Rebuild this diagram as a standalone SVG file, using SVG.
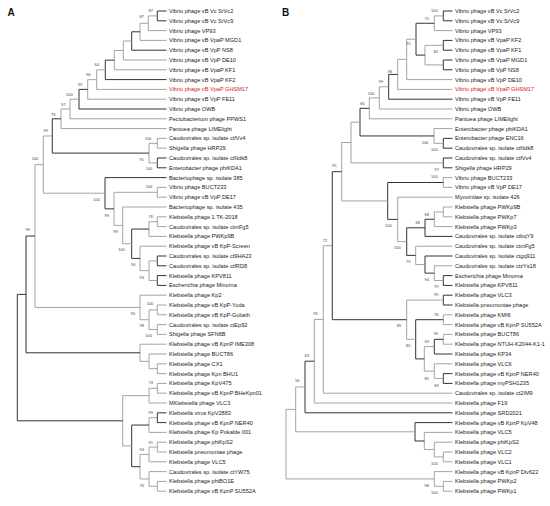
<svg xmlns="http://www.w3.org/2000/svg" width="550" height="506" viewBox="0 0 550 506">
<style>
.g{fill:none;stroke:#9a9a9a;stroke-width:0.9}
.k{fill:none;stroke:#333;stroke-width:1}
.t{font-family:"Liberation Sans",Arial,sans-serif;font-size:5.6px;fill:#222}
.r{fill:#e02020}
.bs{font-family:"Liberation Sans",Arial,sans-serif;font-size:4px;fill:#444;text-anchor:middle}
.p{font-family:"Liberation Sans",Arial,sans-serif;font-size:10px;font-weight:bold;fill:#111}
</style>
<rect width="550" height="506" fill="#fff"/>
<text class="p" x="7.5" y="15.5">A</text>
<text class="p" x="282" y="15.5">B</text>
<g id="connectors-A">
<path class="k" d="M166.5 11 H157.3 V20.8 H166.5"/>
<path class="g" d="M157.3 15.9 H148.3 V30.6 H166.5"/>
<path class="g" d="M148.3 23.25 H140 V40.4 H166.5"/>
<path class="k" d="M140 31.8 H131.7 V50.2 H166.5"/>
<path class="g" d="M131.7 41 H123.3 V60 H166.5"/>
<path class="g" d="M123.3 50.5 H114.3 V69.8 H166.5"/>
<path class="k" d="M114.3 60.15 H105.3 V79.6 H166.5"/>
<path class="g" d="M105.3 69.9 H96.7 V89.4 H166.5"/>
<path class="g" d="M96.7 79.65 H87.7 V99.2 H166.5"/>
<path class="k" d="M87.7 89.4 H79 V109 H166.5"/>
<path class="g" d="M79 99.2 H70 V118.8 H166.5"/>
<path class="g" d="M70 109 H61 V128.6 H166.5"/>
<path class="g" d="M166.5 138.4 H157.3 V148.2 H166.5"/>
<path class="k" d="M166.5 158 H157.3 V167.8 H166.5"/>
<path class="g" d="M157.3 143.3 H149 V162.9 H157.3"/>
<path class="k" d="M61 118.8 H52.3 V153.1 H149"/>
<path class="g" d="M166.5 187.4 H157.3 V197.2 H166.5"/>
<path class="g" d="M166.5 216.8 H157.3 V226.6 H166.5"/>
<path class="g" d="M157.3 221.7 H149 V236.4 H166.5"/>
<path class="k" d="M166.5 256 H157.3 V265.8 H166.5"/>
<path class="k" d="M166.5 275.6 H157.3 V285.4 H166.5"/>
<path class="g" d="M157.3 260.9 H149 V280.5 H157.3"/>
<path class="g" d="M166.5 246.2 H140 V270.7 H149"/>
<path class="k" d="M149 229.05 H131.7 V258.45 H140"/>
<path class="g" d="M166.5 207 H122.7 V243.75 H131.7"/>
<path class="g" d="M157.3 192.3 H114 V225.4 H122.7"/>
<path class="k" d="M166.5 177.6 H105 V208.85 H114"/>
<path class="g" d="M52.3 135.95 H43.3 V193.2 H105"/>
<path class="g" d="M166.5 305 H157.3 V314.8 H166.5"/>
<path class="g" d="M166.5 324.6 H157.3 V334.4 H166.5"/>
<path class="g" d="M157.3 309.9 H149 V329.5 H157.3"/>
<path class="g" d="M166.5 295.2 H140 V319.7 H149"/>
<path class="g" d="M43.3 164.6 H35 V307.45 H140"/>
<path class="g" d="M166.5 363.8 H157.3 V373.6 H166.5"/>
<path class="g" d="M166.5 354 H149 V368.7 H157.3"/>
<path class="g" d="M166.5 344.2 H140 V361.35 H149"/>
<path class="k" d="M35 236 H26 V352.8 H140"/>
<path class="g" d="M166.5 383.4 H157.3 V393.2 H166.5"/>
<path class="g" d="M157.3 388.3 H149 V403 H166.5"/>
<path class="k" d="M166.5 412.8 H157.3 V422.6 H166.5"/>
<path class="g" d="M157.3 417.7 H149 V432.4 H166.5"/>
<path class="g" d="M166.5 442.2 H157.3 V452 H166.5"/>
<path class="g" d="M157.3 447.1 H149 V461.8 H166.5"/>
<path class="g" d="M166.5 481.4 H157.3 V491.2 H166.5"/>
<path class="g" d="M166.5 471.6 H149 V486.3 H157.3"/>
<path class="g" d="M149 454.45 H140 V478.95 H149"/>
<path class="k" d="M149 425.05 H131.7 V466.7 H140"/>
<path class="g" d="M149 395.65 H122.7 V445.9 H131.7"/>
<path class="k" d="M26 294.4 H17.3 V420.8 H122.7"/>
</g>
<g id="connectors-B">
<path class="k" d="M452.5 11 H443.3 V20.8 H452.5"/>
<path class="g" d="M443.3 15.9 H434.3 V30.6 H452.5"/>
<path class="k" d="M452.5 40.4 H443.3 V50.2 H452.5"/>
<path class="k" d="M452.5 60 H443.3 V69.8 H452.5"/>
<path class="g" d="M443.3 45.3 H425 V64.9 H443.3"/>
<path class="k" d="M434.3 23.25 H416 V55.1 H425"/>
<path class="g" d="M416 39.2 H406.7 V79.6 H452.5"/>
<path class="g" d="M406.7 59.4 H397.7 V89.4 H452.5"/>
<path class="k" d="M397.7 74.4 H388.7 V99.2 H452.5"/>
<path class="g" d="M388.7 86.8 H379.3 V109 H452.5"/>
<path class="g" d="M379.3 97.9 H369.3 V118.8 H452.5"/>
<path class="k" d="M452.5 138.4 H443.3 V148.2 H452.5"/>
<path class="g" d="M452.5 128.6 H434 V143.3 H443.3"/>
<path class="k" d="M369.3 108.35 H360 V135.95 H434"/>
<path class="k" d="M452.5 158 H443.3 V167.8 H452.5"/>
<path class="g" d="M360 122.15 H351 V162.9 H443.3"/>
<path class="g" d="M452.5 177.6 H443.3 V187.4 H452.5"/>
<path class="g" d="M452.5 207 H443.3 V216.8 H452.5"/>
<path class="g" d="M443.3 211.9 H434.3 V226.6 H452.5"/>
<path class="k" d="M434.3 219.25 H425 V236.4 H452.5"/>
<path class="k" d="M452.5 275.6 H443.3 V285.4 H452.5"/>
<path class="g" d="M452.5 265.8 H434.3 V280.5 H443.3"/>
<path class="k" d="M452.5 256 H425 V273.15 H434.3"/>
<path class="g" d="M452.5 246.2 H415.7 V264.6 H425"/>
<path class="k" d="M425 227.8 H406.7 V255.4 H415.7"/>
<path class="g" d="M452.5 197.2 H397.7 V241.6 H406.7"/>
<path class="k" d="M443.3 182.5 H387.7 V219.4 H397.7"/>
<path class="g" d="M351 142.5 H341.7 V200.95 H387.7"/>
<path class="k" d="M452.5 295.2 H443.3 V305 H452.5"/>
<path class="g" d="M452.5 314.8 H443.3 V324.6 H452.5"/>
<path class="g" d="M452.5 334.4 H443.3 V344.2 H452.5"/>
<path class="k" d="M443.3 339.3 H434.3 V354 H452.5"/>
<path class="k" d="M452.5 373.6 H443.3 V383.4 H452.5"/>
<path class="g" d="M452.5 363.8 H434.3 V378.5 H443.3"/>
<path class="g" d="M434.3 346.65 H424.3 V371.15 H434.3"/>
<path class="k" d="M443.3 319.7 H415.7 V358.9 H424.3"/>
<path class="g" d="M443.3 300.1 H406.7 V339.3 H415.7"/>
<path class="k" d="M341.7 171.7 H332.3 V319.7 H406.7"/>
<path class="g" d="M332.3 245.7 H323.3 V393.2 H452.5"/>
<path class="g" d="M323.3 319.45 H314.3 V403 H452.5"/>
<path class="k" d="M314.3 361.2 H305 V412.8 H452.5"/>
<path class="g" d="M452.5 452 H443.3 V461.8 H452.5"/>
<path class="g" d="M452.5 442.2 H434.3 V456.9 H443.3"/>
<path class="g" d="M452.5 432.4 H424.3 V449.55 H434.3"/>
<path class="k" d="M452.5 422.6 H415 V441 H424.3"/>
<path class="g" d="M305 387 H295.7 V431.8 H415"/>
<path class="g" d="M452.5 481.4 H443.3 V491.2 H452.5"/>
<path class="g" d="M452.5 471.6 H434.3 V486.3 H443.3"/>
<path class="g" d="M295.7 409.4 H286 V478.95 H434.3"/>
</g>
<g id="bootstrap-A" class="bs">
<text x="150.7" y="12.4">87</text>
<text x="141.7" y="18.1">87</text>
<text x="96.7" y="66.4">64</text>
<text x="88.3" y="76.4">96</text>
<text x="80" y="85.7">99</text>
<text x="69.3" y="95.7">100</text>
<text x="63.3" y="105.7">97</text>
<text x="53.3" y="115.7">79</text>
<text x="45.7" y="132.4">99</text>
<text x="148" y="139.7">100</text>
<text x="141.7" y="161.2">91</text>
<text x="149" y="170.2">100</text>
<text x="35" y="160.2">100</text>
<text x="149" y="188.2">100</text>
<text x="96.7" y="201.4">100</text>
<text x="106.7" y="216.8">99</text>
<text x="150.7" y="217.8">76</text>
<text x="115.5" y="233.4">99</text>
<text x="121.5" y="251.2">100</text>
<text x="133.3" y="266.4">90</text>
<text x="141.7" y="278.7">93</text>
<text x="150" y="305.2">100</text>
<text x="133" y="315">95</text>
<text x="141.7" y="327.4">98</text>
<text x="148.7" y="337.4">100</text>
<text x="27.7" y="231.4">99</text>
<text x="150.7" y="384.1">74</text>
<text x="150.7" y="414.1">99</text>
<text x="150.7" y="443.7">91</text>
<text x="141.7" y="450.7">94</text>
<text x="141.7" y="487.4">76</text>
</g>
<g id="bootstrap-B" class="bs">
<text x="434.3" y="12.4">100</text>
<text x="426.7" y="19.7">75</text>
<text x="408.3" y="44.7">75</text>
<text x="436" y="53.1">82</text>
<text x="390" y="73.1">96</text>
<text x="381" y="83.1">99</text>
<text x="371" y="94.7">100</text>
<text x="362.3" y="104.7">66</text>
<text x="425" y="144">100</text>
<text x="434.3" y="151.4">100</text>
<text x="436.7" y="170.7">97</text>
<text x="334.3" y="167.1">95</text>
<text x="434.3" y="178.4">100</text>
<text x="426.7" y="215.5">68</text>
<text x="417.7" y="224.4">68</text>
<text x="388.3" y="227.2">100</text>
<text x="397.3" y="249.1">100</text>
<text x="408.3" y="263.4">79</text>
<text x="426.7" y="281">94</text>
<text x="436.3" y="288.4">79</text>
<text x="325" y="241.8">72</text>
<text x="436.3" y="296.4">99</text>
<text x="436.3" y="315.7">76</text>
<text x="436" y="335.4">95</text>
<text x="426.7" y="342.5">93</text>
<text x="399" y="327.4">89</text>
<text x="408.3" y="347.4">85</text>
<text x="426.7" y="379.7">85</text>
<text x="436.5" y="386.6">69</text>
<text x="315.5" y="315.3">99</text>
<text x="306.7" y="357.2">63</text>
<text x="297.3" y="382.4">56</text>
<text x="434.3" y="464.7">100</text>
<text x="426.7" y="487.1">98</text>
<text x="434.3" y="493.7">100</text>
</g>
<g id="leaves-A" class="t">
<g id="a1"><text x="169" y="13">Vibrio phage vB Vc SrVc2</text></g>
<g id="a2"><text x="169" y="22.8">Vibrio phage vB Vc SrVc9</text></g>
<g id="a3"><text x="169" y="32.6">Vibrio phage VP93</text></g>
<g id="a4"><text x="169" y="42.4">Vibrio phage vB VpaP MGD1</text></g>
<g id="a5"><text x="169" y="52.2">Vibrio phage vB VpP NS8</text></g>
<g id="a6"><text x="169" y="62">Vibrio phage vB VpP DE10</text></g>
<g id="a7"><text x="169" y="71.8">Vibrio phage vB VpaP KF1</text></g>
<g id="a8"><text x="169" y="81.6">Vibrio phage vB VpaP KF2</text></g>
<g id="a9"><text class="r" x="169" y="91.4">Vibrio phage vB VpaP GHSM17</text></g>
<g id="a10"><text x="169" y="101.2">Vibrio phage vB VpP FE11</text></g>
<g id="a11"><text x="169" y="111">Vibrio phage OWB</text></g>
<g id="a12"><text x="169" y="120.8">Pectobacterium phage PPWS1</text></g>
<g id="a13"><text x="169" y="130.6">Pantoea phage LIMElight</text></g>
<g id="a14"><text x="169" y="140.4">Caudovirales sp. isolate ctfVv4</text></g>
<g id="a15"><text x="169" y="150.2">Shigella phage HRP29</text></g>
<g id="a16"><text x="169" y="160">Caudovirales sp. isolate ctNdk8</text></g>
<g id="a17"><text x="169" y="169.8">Enterobacter phage phiKDA1</text></g>
<g id="a18"><text x="169" y="179.6">Bacteriophage sp. isolate 385</text></g>
<g id="a19"><text x="169" y="189.4">Vibrio phage BUCT233</text></g>
<g id="a20"><text x="169" y="199.2">Vibrio phage vB VpP DE17</text></g>
<g id="a21"><text x="169" y="209">Bacteriophage sp. isolate 435</text></g>
<g id="a22"><text x="169" y="218.8">Klebsiella phage 1 TK-2018</text></g>
<g id="a23"><text x="169" y="228.6">Caudovirales sp. isolate ctmFg5</text></g>
<g id="a24"><text x="169" y="238.4">Klebsiella phage PWKp9B</text></g>
<g id="a25"><text x="169" y="248.2">Klebsiella phage vB KpP-Screen</text></g>
<g id="a26"><text x="169" y="258">Caudovirales sp. isolate ct9HA23</text></g>
<g id="a27"><text x="169" y="267.8">Caudovirales sp. isolate ctfRD8</text></g>
<g id="a28"><text x="169" y="277.6">Klebsiella phage KPV811</text></g>
<g id="a29"><text x="169" y="287.4">Escherichia phage Minorna</text></g>
<g id="a30"><text x="169" y="297.2">Klebsiella phage Kp2</text></g>
<g id="a31"><text x="169" y="307">Klebsiella phage vB KpP-Yoda</text></g>
<g id="a32"><text x="169" y="316.8">Klebsiella phage vB KpP-Goliath</text></g>
<g id="a33"><text x="169" y="326.6">Caudovirales sp. isolate ctEp92</text></g>
<g id="a34"><text x="169" y="336.4">Shigella phage SFN6B</text></g>
<g id="a35"><text x="169" y="346.2">Klebsiella phage vB KpnP IME308</text></g>
<g id="a36"><text x="169" y="356">Klebsiella phage BUCT86</text></g>
<g id="a37"><text x="169" y="365.8">Klebsiella phage CX1</text></g>
<g id="a38"><text x="169" y="375.6">Klebsiella phage Kpn BHU1</text></g>
<g id="a39"><text x="169" y="385.4">Klebsiella phage KpV475</text></g>
<g id="a40"><text x="169" y="395.2">Klebsiella phage vB KpnP BHeKpn01</text></g>
<g id="a41"><text x="169" y="405">MKlebsiella phage VLC3</text></g>
<g id="a42"><text x="169" y="414.8">Klebsiella virus KpV2883</text></g>
<g id="a43"><text x="169" y="424.6">Klebsiella phage vB KpnP NER40</text></g>
<g id="a44"><text x="169" y="434.4">Klebsiella phage Kp Pokalde 001</text></g>
<g id="a45"><text x="169" y="444.2">Klebsiella phage phiKpS2</text></g>
<g id="a46"><text x="169" y="454">Klebsiella pneumoniae phage</text></g>
<g id="a47"><text x="169" y="463.8">Klebsiella phage VLC5</text></g>
<g id="a48"><text x="169" y="473.6">Caudovirales sp. isolate ctYW75</text></g>
<g id="a49"><text x="169" y="483.4">Klebsiella phage phiBO1E</text></g>
<g id="a50"><text x="169" y="493.2">Klebsiella phage vB KpnP SU552A</text></g>
</g>
<g id="leaves-B" class="t">
<g id="b1"><text x="455" y="13">Vibrio phage vB Vc SrVc2</text></g>
<g id="b2"><text x="455" y="22.8">Vibrio phage vB Vc SrVc9</text></g>
<g id="b3"><text x="455" y="32.6">Vibrio phage VP93</text></g>
<g id="b4"><text x="455" y="42.4">Vibrio phage vB VpaP KF2</text></g>
<g id="b5"><text x="455" y="52.2">Vibrio phage vB VpaP KF1</text></g>
<g id="b6"><text x="455" y="62">Vibrio phage vB VpaP MGD1</text></g>
<g id="b7"><text x="455" y="71.8">Vibrio phage vB VpP NS8</text></g>
<g id="b8"><text x="455" y="81.6">Vibrio phage vB VpP DE10</text></g>
<g id="b9"><text class="r" x="455" y="91.4">Vibrio phage vB VpaP GHSM17</text></g>
<g id="b10"><text x="455" y="101.2">Vibrio phage vB VpP FE11</text></g>
<g id="b11"><text x="455" y="111">Vibrio phage OWB</text></g>
<g id="b12"><text x="455" y="120.8">Pantoea phage LIMElight</text></g>
<g id="b13"><text x="455" y="130.6">Enterobacter phage phiKDA1</text></g>
<g id="b14"><text x="455" y="140.4">Enterobacter phage ENC16</text></g>
<g id="b15"><text x="455" y="150.2">Caudovirales sp. isolate ctNdk8</text></g>
<g id="b16"><text x="455" y="160">Caudovirales sp. isolate ctfVv4</text></g>
<g id="b17"><text x="455" y="169.8">Shigella phage HRP29</text></g>
<g id="b18"><text x="455" y="179.6">Vibrio phage BUCT233</text></g>
<g id="b19"><text x="455" y="189.4">Vibrio phage vB VpP DE17</text></g>
<g id="b20"><text x="455" y="199.2">Myoviridae sp. isolate 426</text></g>
<g id="b21"><text x="455" y="209">Klebsiella phage PWKp9B</text></g>
<g id="b22"><text x="455" y="218.8">Klebsiella phage PWKp7</text></g>
<g id="b23"><text x="455" y="228.6">Klebsiella phage PWKp3</text></g>
<g id="b24"><text x="455" y="238.4">Caudovirales sp. isolate ctbqY9</text></g>
<g id="b25"><text x="455" y="248.2">Caudovirales sp. isolate ctmFg5</text></g>
<g id="b26"><text x="455" y="258">Caudovirales sp. isolate ctgq911</text></g>
<g id="b27"><text x="455" y="267.8">Caudovirales sp. isolate ctzYs18</text></g>
<g id="b28"><text x="455" y="277.6">Escherichia phage Minorna</text></g>
<g id="b29"><text x="455" y="287.4">Klebsiella phage KPV811</text></g>
<g id="b30"><text x="455" y="297.2">Klebsiella phage VLC3</text></g>
<g id="b31"><text x="455" y="307">Klebsiella pneumoniae phage</text></g>
<g id="b32"><text x="455" y="316.8">Klebsiella phage KMI6</text></g>
<g id="b33"><text x="455" y="326.6">Klebsiella phage vB KpnP SU552A</text></g>
<g id="b34"><text x="455" y="336.4">Klebsiella phage BUCT86</text></g>
<g id="b35"><text x="455" y="346.2">Klebsiella phage NTUH-K2044-K1-1</text></g>
<g id="b36"><text x="455" y="356">Klebsiella phage KP34</text></g>
<g id="b37"><text x="455" y="365.8">Klebsiella phage VLC6</text></g>
<g id="b38"><text x="455" y="375.6">Klebsiella phage vB KpnP NER40</text></g>
<g id="b39"><text x="455" y="385.4">Klebsiella phage myPSH1235</text></g>
<g id="b40"><text x="455" y="395.2">Caudovirales sp. isolate ct2IM9</text></g>
<g id="b41"><text x="455" y="405">Klebsiella phage F19</text></g>
<g id="b42"><text x="455" y="414.8">Klebsiella phage SRD2021</text></g>
<g id="b43"><text x="455" y="424.6">Klebsiella phage vB KpnP KpV48</text></g>
<g id="b44"><text x="455" y="434.4">Klebsiella phage VLC5</text></g>
<g id="b45"><text x="455" y="444.2">Klebsiella phage phiKpS2</text></g>
<g id="b46"><text x="455" y="454">Klebsiella phage VLC2</text></g>
<g id="b47"><text x="455" y="463.8">Klebsiella phage VLC1</text></g>
<g id="b48"><text x="455" y="473.6">Klebsiella phage vB KpnP Dlv622</text></g>
<g id="b49"><text x="455" y="483.4">Klebsiella phage PWKp2</text></g>
<g id="b50"><text x="455" y="493.2">Klebsiella phage PWKp1</text></g>
</g>
</svg>
